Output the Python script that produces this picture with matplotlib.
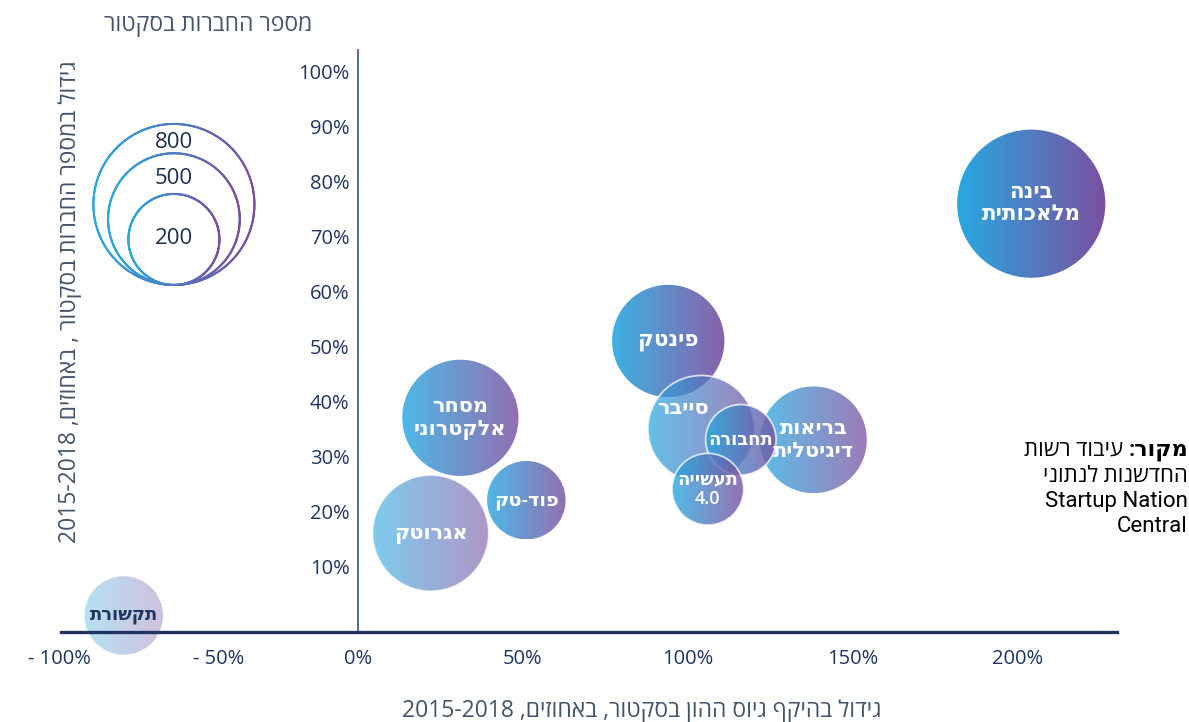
import re
import numpy as np
import matplotlib
matplotlib.use("Agg")
import matplotlib.pyplot as plt
from matplotlib.colors import LinearSegmentedColormap
from matplotlib.patches import Ellipse
from matplotlib.collections import LineCollection
from matplotlib import font_manager

# sectors: growth in capital raised (x, %), growth in number of companies (y, %), number of companies
sectors = ["בינה מלאכותית", "פינטק", "בריאות דיגיטלית", "סייבר", "תחבורה", "תעשייה 4.0",
           "מסחר אלקטרוני", "פוד-טק", "אגרוטק", "תקשורת"]
label_lines = [["בינה", "מלאכותית"], ["פינטק"], ["בריאות", "דיגיטלית"], ["סייבר"], ["תחבורה"],
               ["תעשייה", "4.0"], ["מסחר", "אלקטרוני"], ["פוד-טק"], ["אגרוטק"], ["תקשורת"]]
capital_growth = [204, 94, 138, 104, 116, 106, 31, 51, 22, -71]
company_growth = [76, 51, 33, 35, 33, 24, 37, 22, 16, 1]
companies = [660, 340, 300, 300, 100, 105, 370, 135, 370, 135]

legend_sizes = [800, 500, 200]
x_ticks = [-100, -50, 0, 50, 100, 150, 200]
x_tick_labels = ["- 100%", "- 50%", "0%", "50%", "100%", "150%", "200%"]
y_ticks = [10, 20, 30, 40, 50, 60, 70, 80, 90, 100]

# font: use one with hebrew glyphs, fall back to DejaVu
names = {f.name for f in font_manager.fontManager.ttflist}
fam = ["Open Sans", "DejaVu Sans"] if "Open Sans" in names else ["DejaVu Sans"]
plt.rcParams["font.family"] = fam
src_fam = (["Roboto"] if "Roboto" in names else []) + fam

def rtl(s):
    # matplotlib has no bidi support: flip the string, keep latin / digit runs in order
    r = s[::-1]
    return re.sub(r"[0-9A-Za-z.%\-]+", lambda m: m.group(0)[::-1], r)

NAVY = "#1F3560"
GREY = "#44546A"
cmap = LinearSegmentedColormap.from_list("bub", ["#27A9E1", "#7B4F9F"])

fig = plt.figure(figsize=(11.89, 7.22), dpi=100)
ax = fig.add_axes([0, 0, 1, 1])
xlim = (-108.5, 251.8)
ylim = (-18.4, 113.1)
ax.set_xlim(*xlim)
ax.set_ylim(*ylim)
ppx = 1189 / (xlim[1] - xlim[0])   # pixels per x unit
ppy = 722 / (ylim[1] - ylim[0])    # pixels per y unit


def radius_px(n):
    return 10.5 + 2.475 * np.sqrt(n)


alphas = [1.0, 0.9, 0.75, 0.72, 0.8, 0.8, 0.82, 0.82, 0.6, 0.35]
outlined = [False, False, False, True, True, True, False, False, True, False]
zorders = [2, 2, 2, 3, 4, 5, 2, 2, 3, 2]
font_sizes = [15.5, 15.5, 15, 15, 13, 13, 15, 14, 15, 13]
text_colors = ["white"] * 9 + [NAVY]
label_offsets = [(0, 0), (0, 0), (0, 0), (-18, 20), (0, 0), (0, 0), (0, 0), (0, 0), (0, 0), (0, 0)]

grad = np.linspace(0, 1, 256).reshape(1, -1)
for i, name in enumerate(sectors):
    cx, cy = capital_growth[i], company_growth[i]
    r = radius_px(companies[i])
    hw, hh = r / ppx, r / ppy
    clip = Ellipse((cx, cy), 2 * hw, 2 * hh, transform=ax.transData, facecolor="none", edgecolor="none")
    ax.add_patch(clip)
    im = ax.imshow(grad, cmap=cmap, extent=[cx - hw, cx + hw, cy - hh, cy + hh], aspect="auto",
                   alpha=alphas[i], zorder=zorders[i], interpolation="bilinear")
    im.set_clip_path(clip)
    if outlined[i]:
        ax.add_patch(Ellipse((cx, cy), 2 * hw, 2 * hh, fill=False, edgecolor="white", alpha=0.75,
                             lw=1.3, zorder=zorders[i] + 0.1))
    dx, dy = label_offsets[i]
    txt = "\n".join(rtl(l) for l in label_lines[i])
    ax.text(cx + dx / ppx, cy + dy / ppy, txt, ha="center", va="center", color=text_colors[i],
            fontsize=font_sizes[i], fontweight="semibold", zorder=10, linespacing=1.1)

ax.set_xlim(*xlim)
ax.set_ylim(*ylim)

# size legend: nested circles sharing a bottom point, gradient outline
lx, lbottom = -55.8, 61.2
t = np.linspace(0, 2 * np.pi, 600)
legend_text_drop = {800: 19, 500: 25, 200: 45}
for n in legend_sizes:
    r = radius_px(n)
    hw, hh = r / ppx, r / ppy
    cy = lbottom + hh
    xs = lx + hw * np.cos(t)
    ys = cy + hh * np.sin(t)
    pts = np.column_stack([xs, ys]).reshape(-1, 1, 2)
    segs = np.concatenate([pts[:-1], pts[1:]], axis=1)
    lc = LineCollection(segs, colors=cmap((np.cos(t[:-1]) + 1) / 2), lw=1.5, zorder=3,
                        capstyle="round")
    ax.add_collection(lc)
    top = lbottom + 2 * hh
    ax.text(lx, top - legend_text_drop[n] / ppy, str(n), ha="center", va="center",
            fontsize=16, color="#1E2F4F", zorder=4)

# axes
for s in ["top", "right"]:
    ax.spines[s].set_visible(False)
ax.spines["left"].set_position(("data", 0))
ax.spines["left"].set_bounds(-2, 104)
ax.spines["left"].set_color("#4A5F80")
ax.spines["left"].set_linewidth(1.3)
ax.spines["bottom"].set_position(("data", -2))
ax.spines["bottom"].set_bounds(-90, 230)
ax.spines["bottom"].set_color("#1F3560")
ax.spines["bottom"].set_linewidth(2.4)

ax.set_xticks(x_ticks)
ax.set_xticklabels(x_tick_labels)
ax.set_yticks(y_ticks)
ax.set_yticklabels([f"{v}%" for v in y_ticks])
ax.tick_params(axis="x", length=0, pad=12, labelsize=14.5, labelcolor=NAVY)
ax.tick_params(axis="y", length=0, pad=6, labelsize=14.5, labelcolor=NAVY)
# the negative labels sit right of their ticks in the original
for lab in ax.get_xticklabels()[:2]:
    lab.set_horizontalalignment("left")

# axis titles
fig.text(208 / 1189, 1 - 25 / 722, rtl("מספר החברות בסקטור"), ha="center", va="center",
         fontsize=16.5, color=GREY)
fig.text(70 / 1189, 1 - 302 / 722, rtl("גידול במספר החברות בסקטור , באחוזים, 2015-2018"),
         ha="center", va="center", rotation=90, fontsize=16.5, color=GREY)
fig.text(642 / 1189, 1 - 711 / 722, rtl("גידול בהיקף גיוס ההון בסקטור, באחוזים, 2015-2018"),
         ha="center", va="center", fontsize=16.5, color=GREY)

# source note, right aligned, bold lead word
xr = 1188 / 1189
src_bold = fig.text(xr, 1 - 450 / 722, rtl("מקור:"), ha="right", va="center", fontsize=16,
                    fontweight="bold", color="black", family=src_fam)
fig.canvas.draw()
bw = src_bold.get_window_extent().width
fig.text(xr - (bw + 5) / 1189, 1 - 450 / 722, rtl("עיבוד רשות"), ha="right", va="center",
         fontsize=16, color="black", family=src_fam)
src_lines = [rtl("החדשנות לנתוני"), "Startup Nation", "Central"]
for k, line in enumerate(src_lines):
    fig.text(xr, 1 - (476 + 25.5 * k) / 722, line, ha="right", va="center", fontsize=16,
             color="black", family=src_fam)

fig.savefig("out.png", dpi=100)
